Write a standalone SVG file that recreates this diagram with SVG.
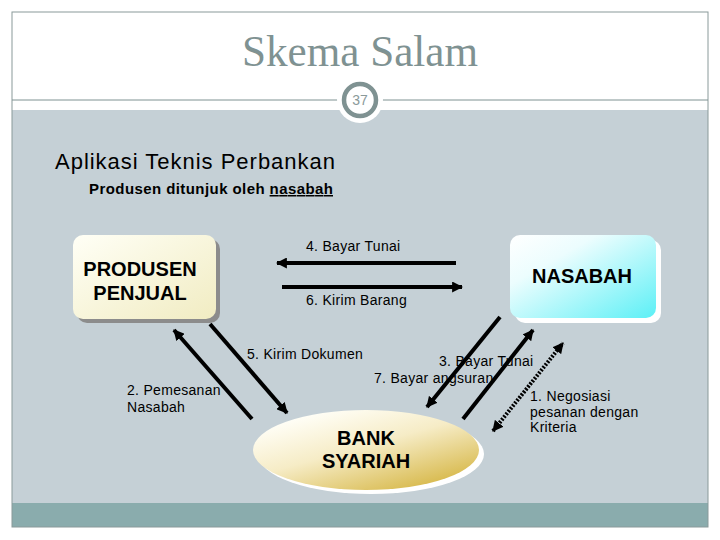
<svg xmlns="http://www.w3.org/2000/svg" width="720" height="540" viewBox="0 0 720 540">
<defs>
<style>
.lbl{font-family:"Liberation Sans",Arial,sans-serif;font-size:14px;fill:#000;letter-spacing:0.3px}
.node{font-family:"Liberation Sans",Arial,sans-serif;font-size:20px;font-weight:bold;fill:#000;text-anchor:middle}
.con{stroke:#000;stroke-width:4;fill:none}
</style>
<linearGradient id="gProd" x1="0" y1="0" x2="1" y2="1">
<stop offset="0" stop-color="#fffff6"/><stop offset="1" stop-color="#f1ecc2"/>
</linearGradient>
<linearGradient id="gNas" x1="0" y1="0" x2="1" y2="1">
<stop offset="0" stop-color="#ffffff"/><stop offset="0.3" stop-color="#ecfdfe"/><stop offset="1" stop-color="#5cf0f6"/>
</linearGradient>
<linearGradient id="gBank" x1="0.2" y1="0.1" x2="0.9" y2="1">
<stop offset="0" stop-color="#fffef6"/><stop offset="0.4" stop-color="#f6ecc6"/><stop offset="1" stop-color="#d2b036"/>
</linearGradient>
<marker id="ah" viewBox="0 0 10 10" refX="9" refY="5" markerWidth="11" markerHeight="11" markerUnits="userSpaceOnUse" orient="auto-start-reverse">
<path d="M0,0 L10,5 L0,10 z" fill="#000"/>
</marker>
</defs>

<!-- background -->
<rect x="0" y="0" width="720" height="540" fill="#ffffff"/>
<rect x="12" y="110" width="696" height="393" fill="#c5d0d6"/>
<rect x="12" y="503" width="696" height="24" fill="#8aacad"/>
<rect x="12" y="12" width="696" height="515" fill="none" stroke="#8a9a9a" stroke-width="1"/>
<line x1="12" y1="100" x2="708" y2="100" stroke="#7f9292" stroke-width="1"/>

<text x="360" y="66" text-anchor="middle" font-family="Liberation Serif,'Times New Roman',serif" font-size="44" fill="#7f9292" textLength="236" lengthAdjust="spacingAndGlyphs">Skema Salam</text>

<g id="page-number">
<circle cx="360" cy="100" r="23" fill="#ffffff"/>
<circle cx="360" cy="100" r="16" fill="#ffffff" stroke="#7f9292" stroke-width="4.5"/>
<text x="360" y="105" text-anchor="middle" font-family="Liberation Sans,Arial,sans-serif" font-size="14" fill="#8a9a9a">37</text>
</g>

<text x="55" y="169" font-family="Liberation Sans,Arial,sans-serif" font-size="22" fill="#000" textLength="280" lengthAdjust="spacing">Aplikasi Teknis Perbankan</text>
<text x="89" y="194" font-family="Liberation Sans,Arial,sans-serif" font-size="15" font-weight="bold" fill="#000" textLength="244" lengthAdjust="spacing">Produsen ditunjuk oleh <tspan text-decoration="underline">nasabah</tspan></text>

<g id="produsen">
<rect x="77" y="239" width="143" height="84" rx="10" fill="#8c8c8c"/>
<rect x="73" y="235" width="143" height="84" rx="10" fill="url(#gProd)"/>
<text class="node" x="140" y="276">PRODUSEN</text>
<text class="node" x="140" y="300">PENJUAL</text>
</g>

<g id="nasabah">
<rect x="515" y="240" width="146" height="83" rx="10" fill="#ffffff"/>
<rect x="510" y="235" width="146" height="83" rx="10" fill="url(#gNas)"/>
<text class="node" x="582" y="283">NASABAH</text>
</g>

<g id="bank-syariah">
<ellipse cx="371" cy="454" rx="113" ry="40" fill="#ffffff"/>
<ellipse cx="366" cy="450" rx="113" ry="40" fill="url(#gBank)"/>
<text class="node" x="366" y="445">BANK</text>
<text class="node" x="366" y="468">SYARIAH</text>
</g>

<g id="labels">
<text class="lbl" x="306" y="251">4. Bayar Tunai</text>
<text class="lbl" x="306" y="305">6. Kirim Barang</text>
<text class="lbl" x="127" y="395">2. Pemesanan</text>
<text class="lbl" x="127" y="412">Nasabah</text>
<text class="lbl" x="247" y="359">5. Kirim Dokumen</text>
<text class="lbl" x="439" y="366">3. Bayar Tunai</text>
<text class="lbl" x="374" y="383">7. Bayar  angsuran</text>
<text class="lbl" x="530" y="401">1. Negosiasi</text>
<text class="lbl" x="530" y="417">pesanan dengan</text>
<text class="lbl" x="530" y="432">Kriteria</text>
</g>

<g id="connectors">
<path class="con" d="M456,263 L277,263" marker-end="url(#ah)"/>
<path class="con" d="M282,287 L462,287" marker-end="url(#ah)"/>
<path class="con" d="M252,419 L174,330" marker-end="url(#ah)"/>
<path class="con" d="M210,324 L287,413" marker-end="url(#ah)"/>
<path class="con" d="M500,317 L427,407" marker-end="url(#ah)"/>
<path class="con" d="M463,419 L533,330" marker-end="url(#ah)"/>
<path class="con" d="M493,431 L563,343" stroke-dasharray="2 1.5" marker-start="url(#ah)" marker-end="url(#ah)"/>
</g>
</svg>
